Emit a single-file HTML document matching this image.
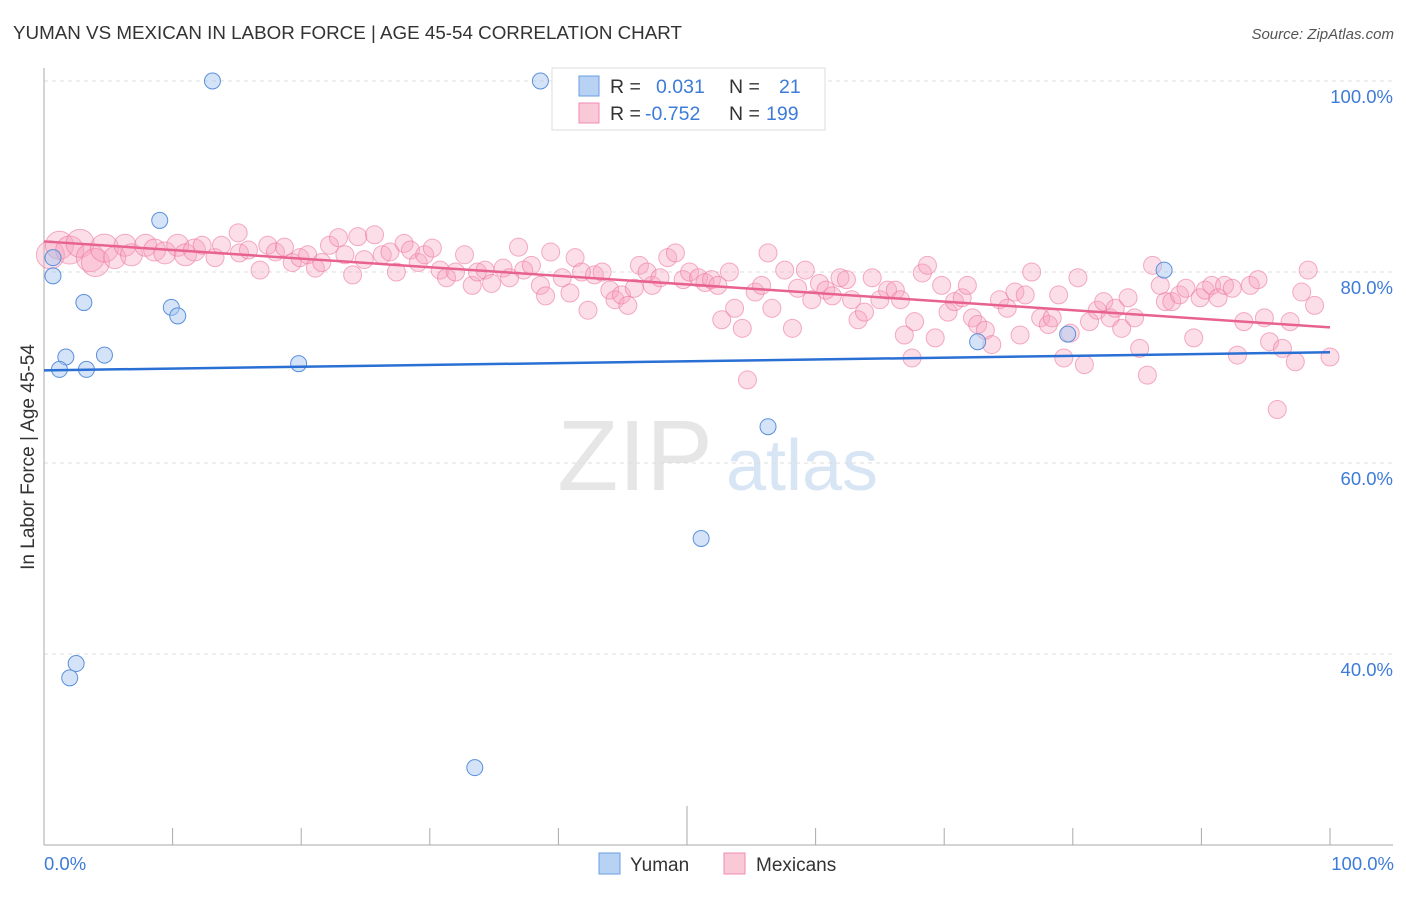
<!DOCTYPE html>
<html><head><meta charset="utf-8"><style>
body{margin:0;background:#fff;font-family:"Liberation Sans",sans-serif}
svg text{font-family:"Liberation Sans",sans-serif}
</style></head><body>
<svg id="chart" width="1406" height="892">
<text x="13" y="39" font-size="18.8" fill="#333">YUMAN VS MEXICAN IN LABOR FORCE | AGE 45-54 CORRELATION CHART</text>
<text x="1394" y="39" font-size="15" fill="#555" font-style="italic" text-anchor="end">Source: ZipAtlas.com</text>
<g><text x="635" y="490" font-size="100" font-family="Liberation Serif" fill="#e6e6e6" text-anchor="middle">ZIP</text><text x="802" y="490" font-size="72" fill="#d8e5f4" text-anchor="middle">atlas</text></g>
<g id="grid"></g><g id="axes"></g><g id="marks"></g>
<text transform="translate(34,457) rotate(-90)" font-size="19" fill="#333" text-anchor="middle">In Labor Force | Age 45-54</text>
<text x="44" y="870" font-size="18.5" fill="#3d7bd8">0.0%</text>
<text x="1394" y="870" font-size="18.5" fill="#3d7bd8" text-anchor="end">100.0%</text>
<g>
<rect x="552" y="68" width="273" height="62" fill="#fff" stroke="#ddd"/>
<rect x="579" y="76" width="20" height="20" fill="#b8d2f4" stroke="#6a9ee0"/>
<rect x="579" y="103" width="20" height="20" fill="#f9c9d7" stroke="#f08cb0"/>
<text x="610" y="93" font-size="19.5" fill="#333">R = </text><text x="656" y="93" font-size="19.5" fill="#3d7bd8">0.031</text>
<text x="729" y="93" font-size="19.5" fill="#333">N = </text><text x="779" y="93" font-size="19.5" fill="#3d7bd8">21</text>
<text x="610" y="120" font-size="19.5" fill="#333">R = </text><text x="645" y="120" font-size="19.5" fill="#3d7bd8">-0.752</text>
<text x="729" y="120" font-size="19.5" fill="#333">N = </text><text x="766" y="120" font-size="19.5" fill="#3d7bd8">199</text>
</g>
<g>
<rect x="599" y="853" width="21" height="21" fill="#b8d2f4" stroke="#6a9ee0"/>
<text x="630" y="871" font-size="19" fill="#333">Yuman</text>
<rect x="724" y="853" width="21" height="21" fill="#f9c9d7" stroke="#f08cb0"/>
<text x="756" y="871" font-size="19" fill="#333">Mexicans</text>
</g>
</svg>
<script>
const yTicks=[100,80,60,40];
const yTickLabels=["100.0%","80.0%","60.0%","40.0%"];
const xTicks=[0,10,20,30,40,50,60,70,80,90,100];
const yumanX=[13.1,38.6,9.0,0.7,3.1,9.9,10.4,1.7,4.7,1.2,3.3,19.8,87.1,72.6,79.6,56.3,51.1,2.5,2.0,33.5,0.7];
const yumanY=[100,100,85.4,79.6,76.8,76.3,75.4,71.1,71.3,69.8,69.8,70.4,80.2,72.7,73.5,63.8,52.1,39.0,37.5,28.1,81.5];
const mexX=[0.5,1.2,2.0,2.8,3.6,4.0,4.7,5.5,6.3,6.8,7.9,8.6,9.4,10.4,11.0,11.7,12.3,13.3,13.8,15.1,15.2,15.9,16.8,17.4,18.0,18.7,19.3,19.9,20.5,21.1,21.6,22.2,22.9,23.4,24.0,24.4,24.9,25.7,26.3,26.9,27.4,28.0,28.5,29.1,29.6,30.2,30.8,31.3,32.0,32.7,33.3,33.7,34.3,34.8,35.7,36.2,36.9,37.3,37.9,38.6,39.0,39.4,40.3,40.9,41.3,41.8,42.3,42.8,43.4,44.0,44.4,44.9,45.4,45.9,46.3,46.9,47.3,47.9,48.5,49.1,49.7,50.2,50.9,51.4,51.9,52.4,52.7,53.3,53.7,54.3,54.7,55.3,55.8,56.3,56.6,57.6,58.2,58.6,59.2,59.7,60.3,60.8,61.3,61.9,62.4,62.8,63.3,63.8,64.4,65.0,65.6,66.2,66.6,66.9,67.5,67.7,68.3,68.7,69.3,69.8,70.3,70.8,71.4,71.8,72.2,72.6,73.2,73.7,74.3,74.9,75.5,75.9,76.3,76.8,77.5,78.1,78.4,78.9,79.3,79.8,80.4,80.9,81.3,81.9,82.4,82.9,83.3,83.8,84.3,84.8,85.2,85.8,86.2,86.8,87.2,87.7,88.3,88.8,89.4,89.9,90.3,90.8,91.3,91.8,92.4,92.8,93.3,93.8,94.4,94.9,95.3,95.9,96.3,96.9,97.3,97.8,98.3,98.8,100];
const mexY=[81.8,82.8,82.3,83.0,81.5,81.0,82.5,81.5,82.8,81.8,82.8,82.3,82.0,82.8,81.8,82.3,82.8,81.5,82.8,84.1,82.0,82.3,80.2,82.8,82.1,82.6,81.0,81.5,81.8,80.4,81.0,82.8,83.6,81.8,79.7,83.7,81.3,83.9,81.8,82.1,80.0,83.0,82.3,81.0,81.8,82.5,80.2,79.4,80.0,81.8,78.6,80.0,80.2,78.8,80.4,79.4,82.6,80.2,80.7,78.6,77.5,82.1,79.4,77.8,81.5,80.0,76.0,79.7,80.0,78.1,77.1,77.6,76.5,78.3,80.7,80.0,78.6,79.4,81.5,82.0,79.2,80.0,79.4,78.9,79.2,78.6,75.0,80.0,76.2,74.1,68.7,77.9,78.6,82.0,76.2,80.2,74.1,78.3,80.2,77.1,78.8,78.1,77.5,79.4,79.2,77.1,75.0,75.8,79.4,77.1,78.1,78.1,77.1,73.4,71.0,74.8,79.9,80.7,73.1,78.6,75.8,76.9,77.3,78.6,75.2,74.5,73.9,72.4,77.1,76.2,77.9,73.4,77.6,80.0,75.2,74.5,75.2,77.6,71.0,73.6,79.4,70.3,74.8,76.0,76.9,75.2,76.2,74.1,77.3,75.2,72.0,69.2,80.7,78.6,76.9,76.9,77.6,78.3,73.1,77.3,78.1,78.6,77.3,78.6,78.3,71.3,74.8,78.6,79.2,75.2,72.7,65.6,72.0,74.8,70.6,77.9,80.2,76.5,71.1];
const yumanTrend=[69.7,71.6];
const mexTrend=[83.2,74.2];
const NS="http://www.w3.org/2000/svg";
const X=v=>44+v*12.86;
const Y=v=>81+(100-v)*9.55;
function mk(tag,attrs,parent){const e=document.createElementNS(NS,tag);for(const k in attrs)e.setAttribute(k,attrs[k]);document.getElementById(parent).appendChild(e);return e;}
yTicks.forEach((t,i)=>{
 const l=mk('line',{x1:44,x2:1393,y1:Y(t),y2:Y(t),stroke:'#ddd','stroke-dasharray':'4,4'},'grid');
 
 
 const tx=mk('text',{x:1393,y:Y(t)+22,'font-size':18.5,fill:'#3d7bd8','text-anchor':'end'},'grid');
 tx.textContent=yTickLabels[i];
 
 
});
const ya=mk('line',{x1:44,x2:44,y1:68,y2:845,stroke:'#aaa'},'axes');


const xa=mk('line',{x1:44,x2:1393,y1:845,y2:845,stroke:'#aaa'},'axes');


xTicks.forEach(t=>{
 const k=mk('line',{x1:X(t),x2:X(t),y1:845,y2:t===50?806:828,stroke:'#aaa'},'axes');
 
 
});
mexX.forEach((x,i)=>{
 const r=x<12?(x<5?14:11):9;
 const c=mk('circle',{cx:X(x),cy:Y(mexY[i]),r:r,fill:'rgba(245,160,188,0.35)',stroke:'rgba(236,120,160,0.6)','stroke-width':1},'marks');
 
 
});
yumanX.forEach((x,i)=>{
 const c=mk('circle',{cx:X(x),cy:Y(yumanY[i]),r:8,fill:'rgba(170,200,240,0.5)',stroke:'#5a90dc','stroke-width':1},'marks');
 
 
});
const t1=mk('line',{x1:X(0),x2:X(100),y1:Y(mexTrend[0]),y2:Y(mexTrend[1]),stroke:'#e8628e','stroke-width':2.5},'marks');


const t2=mk('line',{x1:X(0),x2:X(100),y1:Y(yumanTrend[0]),y2:Y(yumanTrend[1]),stroke:'#2a6fd4','stroke-width':2.5},'marks');


</script>
</body></html>
